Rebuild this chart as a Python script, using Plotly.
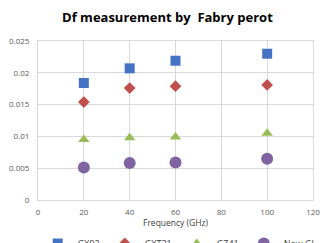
import plotly.graph_objects as go

freq = [20, 40, 60, 100]
gx92 = [0.0184, 0.0207, 0.0219, 0.0230]
gxt31 = [0.0154, 0.0176, 0.0179, 0.0181]
gz41 = [0.0095, 0.0098, 0.0099, 0.0105]
new_gl = [0.0051, 0.0058, 0.0059, 0.0065]

series = [
    ("GX92", gx92, "square", "#4472C4", 10),
    ("GXT31", gxt31, "diamond", "#C0504D", 9),
    ("GZ41", gz41, "triangle-up", "#9BBB59", 10),
    ("New GL", new_gl, "circle", "#8064A2", 12),
]

fig = go.Figure()
for name, vals, sym, col, sz in series:
    fig.add_trace(go.Scatter(x=freq, y=vals, mode="markers", name=name,
                             marker=dict(symbol=sym, color=col, size=sz, line=dict(width=0))))

fig.update_layout(
    width=322, height=243,
    margin=dict(l=38, r=9, t=41, b=43, autoexpand=False),
    paper_bgcolor="white", plot_bgcolor="white",
    font=dict(family="Open Sans", size=9, color="#595959"),
    title=dict(text="<b>Df measurement by  Fabry perot</b>", x=0.52, xanchor="center",
               y=0.93, yanchor="middle", font=dict(size=13, color="#000000")),
    xaxis=dict(range=[0, 120], dtick=20, showgrid=True, gridcolor="#D9D9D9", gridwidth=1,
               zeroline=False, showline=True, linecolor="#D9D9D9", mirror=True,
               tickfont=dict(size=8, color="#595959"), ticks="", ticklabelstandoff=4),
    yaxis=dict(range=[0, 0.025], dtick=0.005, showgrid=True, gridcolor="#D9D9D9", gridwidth=1,
               zeroline=False, showline=True, linecolor="#D9D9D9", mirror=True,
               tickfont=dict(size=8, color="#595959"), ticks="", tickformat="~g",
               ticklabelstandoff=6),
    legend=dict(orientation="h", x=-0.001, xanchor="left", y=-0.182, yanchor="top",
                font=dict(size=9, color="#404040"), itemwidth=30, tracegroupgap=0,
                bgcolor="rgba(0,0,0,0)"),
    annotations=[dict(text="Frequency (GHz)", xref="paper", yref="paper", x=0.5, y=-0.143,
                      xanchor="center", yanchor="middle", showarrow=False,
                      font=dict(size=8.5, color="#404040"))],
    showlegend=True,
)

fig.write_html("out.html", config={"displayModeBar": False},
               post_script="document.body.style.margin='0';document.body.style.padding='0';")
